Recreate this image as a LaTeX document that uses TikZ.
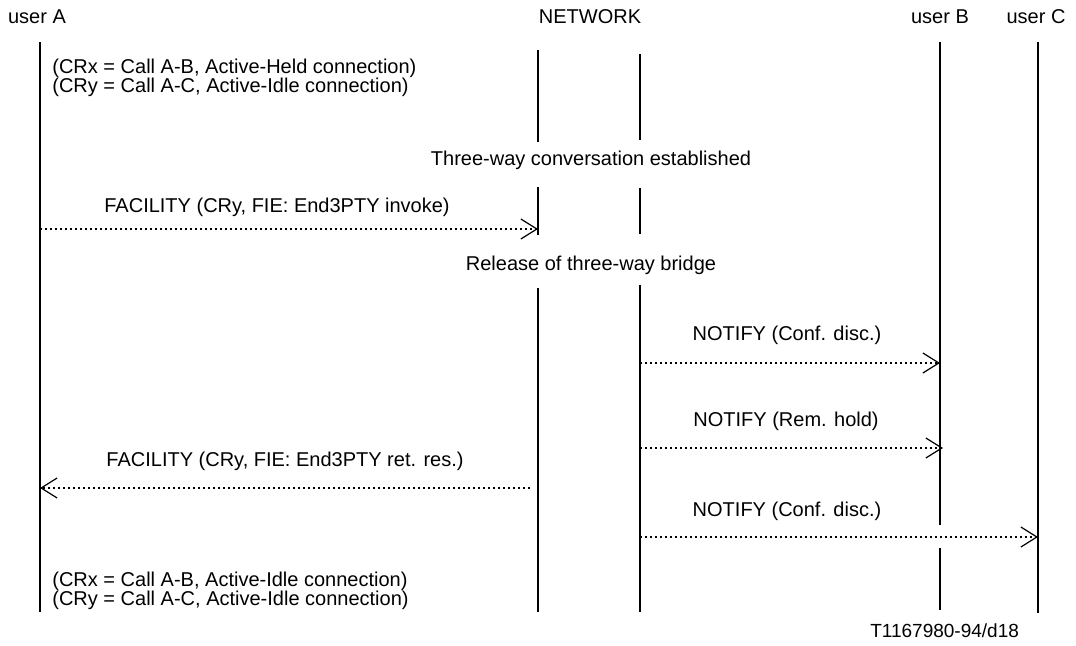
\documentclass[tikz,border=0pt]{standalone}
\usepackage{fontspec}
\setmainfont{Liberation Sans}
\usetikzlibrary{arrows.meta}
\begin{document}
\begin{tikzpicture}[x=0.5pt,y=-0.5pt,
  font=\fontsize{10}{12}\selectfont,
  life/.style={line width=0.7pt},
  msg/.style={line width=1.05pt, dash pattern=on 1pt off 1.5pt,
    -{Straight Barb[length=8pt,width=10pt,line width=0.6pt]}},
  note/.style={anchor=west, align=left, inner sep=0pt}]
\useasboundingbox (0,0) rectangle (1076,646);

\node (userA) at (37,17) {user A};
\node (net) at (590,17) {NETWORK};
\node (userB) at (940,17) {user B};
\node (userC) at (1036,17) {user C};

% lifelines
\draw[life] (40,42) -- (40,612);
\draw[life] (538,50) -- (538,142) (538,187) -- (538,235) (538,288) -- (538,612);
\draw[life] (640,54) -- (640,140) (640,188) -- (640,234) (640,285) -- (640,612);
\draw[life] (940,42) -- (940,525) (940,548) -- (940,610);
\draw[life] (1038,42) -- (1038,613);

\node[note] (top) at (52,78) {(CRx = Call A-B, Active-Held connection)\\[-2.6pt](CRy = Call A-C, Active-Idle connection)};
\node (conv) at (591,160) {Three-way conversation established};
\node (rel) at (591,265) {Release of three-way bridge};
\node[note] (bot) at (52,591) {(CRx = Call A-B, Active-Idle connection)\\[-2.6pt](CRy = Call A-C, Active-Idle connection)};

% messages
\coordinate (a1) at (40,229);  \coordinate (n1) at (538,229);
\coordinate (n2) at (640,363); \coordinate (b2) at (940,363);
\coordinate (n3) at (640,448); \coordinate (b3) at (943,448);
\coordinate (n4) at (530,488); \coordinate (a4) at (40,488);
\coordinate (n5) at (640,537); \coordinate (c5) at (1038,537);

\draw[msg] (a1) -- (n1);
\node (m1) at (277,207) {FACILITY (CRy, FIE: End3PTY invoke)};
\draw[msg] (n2) -- (b2);
\node (m2) at (787,335) {NOTIFY (Conf. disc.)};
\draw[msg] (n3) -- (b3);
\node (m3) at (786,421) {NOTIFY (Rem. hold)};
\draw[msg] (n4) -- (a4);
\node (m4) at (285,461) {FACILITY (CRy, FIE: End3PTY ret. res.)};
\draw[msg] (n5) -- (c5);
\node (m5) at (787,511) {NOTIFY (Conf. disc.)};

\node[anchor=east, font=\fontsize{9.5}{11}\selectfont] (ref) at (1026,631) {T1167980-94/d18};
\end{tikzpicture}
\end{document}
